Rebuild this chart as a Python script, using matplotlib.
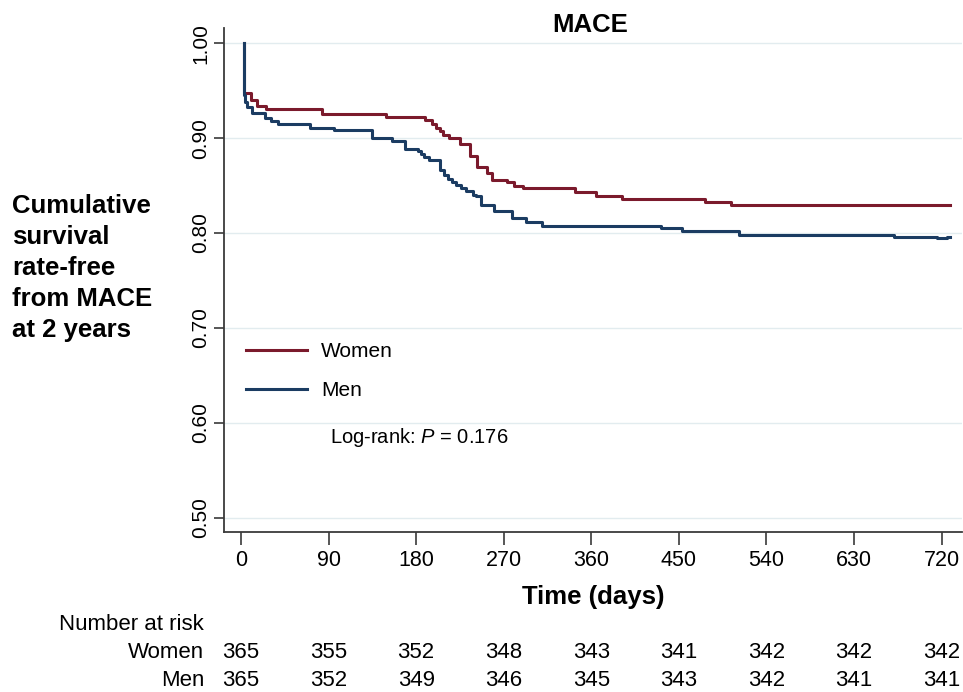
import matplotlib
matplotlib.use('Agg')
import matplotlib.pyplot as plt
import matplotlib.transforms as mtransforms

plt.rcParams['font.family'] = ['Liberation Sans', 'DejaVu Sans']
plt.rcParams['mathtext.fontset'] = 'custom'
plt.rcParams['mathtext.rm'] = 'Liberation Sans'
plt.rcParams['mathtext.it'] = 'Liberation Sans:italic'

NARROW = ['Liberation Sans Narrow', 'Liberation Sans', 'DejaVu Sans']

# Kaplan-Meier steps (time in days, survival after step)
women_t = [3, 3.5, 10, 16, 26, 83, 149, 189, 196, 200, 204, 208, 214, 225, 235,
           243, 253, 258, 273, 281, 290, 343, 365, 392, 477, 504, 729]
women_s = [1.000, 0.948, 0.940, 0.934, 0.931, 0.925, 0.9225, 0.919, 0.915, 0.911,
           0.907, 0.903, 0.900, 0.894, 0.881, 0.870, 0.863, 0.856, 0.854, 0.850,
           0.8475, 0.843, 0.8386, 0.836, 0.833, 0.830, 0.830]

men_t = [3, 3.5, 4.5, 6, 11, 25, 31, 38, 71, 96, 135, 155.5, 168.5, 182, 185, 188,
         193, 205, 209, 213, 217, 221, 226, 231, 238, 242, 246.5, 260, 278, 293,
         309, 432, 453, 512, 671, 715, 726, 729]
men_s = [1.000, 0.945, 0.938, 0.933, 0.926, 0.921, 0.918, 0.915, 0.911, 0.909,
         0.9005, 0.8965, 0.889, 0.886, 0.883, 0.880, 0.877, 0.866, 0.861, 0.857,
         0.854, 0.851, 0.847, 0.844, 0.840, 0.8386, 0.829, 0.8227, 0.8157, 0.812,
         0.8076, 0.805, 0.802, 0.798, 0.7963, 0.795, 0.796, 0.796]

risk_times = [0, 90, 180, 270, 360, 450, 540, 630, 720]
women_risk = [365, 355, 352, 348, 343, 341, 342, 342, 342]
men_risk = [365, 352, 349, 346, 345, 343, 342, 341, 341]

yticks = [0.5, 0.6, 0.7, 0.8, 0.9, 1.0]

women_col = '#7b1a2c'
men_col = '#1b3c62'
spine_col = '#3a3a3a'

W, H = 963, 692
fig = plt.figure(figsize=(W / 100, H / 100), dpi=100)
ax = fig.add_axes([224 / W, 1 - 532 / H, (962 - 224) / W, (532 - 28) / H])

for y in yticks:
    ax.axhline(y, color='#e2ecef', lw=1.0, zorder=0)

ax.step(women_t, women_s, where='post', color=women_col, lw=2.2, label='Women')
ax.step(men_t, men_s, where='post', color=men_col, lw=2.2, label='Men')

ax.set_xlim(-17.5, 741)
ax.set_ylim(0.485, 1.016)
ax.set_xticks(risk_times)
ax.set_yticks(yticks)
ax.set_yticklabels(['%.2f' % v for v in yticks], rotation=90, va='center', fontsize=15)
ax.set_xticklabels([str(t) for t in risk_times], fontsize=15.5, family=NARROW)
ax.tick_params(axis='x', length=9, width=1.2, color=spine_col, pad=4)
ax.tick_params(axis='y', length=7, width=1.2, color=spine_col, pad=3)

for s in ['top', 'right']:
    ax.spines[s].set_visible(False)
for s in ['left', 'bottom']:
    ax.spines[s].set_color(spine_col)
    ax.spines[s].set_linewidth(1.3)

leg = ax.legend(loc='upper left', bbox_to_anchor=(0.019, 0.393), frameon=False,
                fontsize=15, handlelength=2.9, handletextpad=0.7, labelspacing=0.95,
                borderaxespad=0)

ax.text(91, 0.585, 'Log-rank: $\\mathit{P}$ = 0.176', fontsize=14.5, va='center', ha='left')

fig.text(590 / W, 1 - 25 / H, 'MACE', fontsize=18.5, fontweight='bold', ha='center', va='center')
fig.text(593 / W, 1 - 597 / H, 'Time (days)', fontsize=18.5, fontweight='bold',
         ha='center', va='center')
fig.text(12 / W, 1 - 268 / H, 'Cumulative\nsurvival\nrate-free\nfrom MACE\nat 2 years',
         fontsize=18.5, fontweight='bold', ha='left', va='center', linespacing=1.38)

# number at risk table
trans = mtransforms.blended_transform_factory(ax.transData, fig.transFigure)
fig.text(204 / W, 1 - 625 / H, 'Number at risk', fontsize=16, family=NARROW,
         ha='right', va='center')
fig.text(204 / W, 1 - 653 / H, 'Women', fontsize=16, family=NARROW, ha='right', va='center')
fig.text(204 / W, 1 - 680 / H, 'Men', fontsize=16, family=NARROW, ha='right', va='center')
for t, nw, nm in zip(risk_times, women_risk, men_risk):
    ax.text(t, 1 - 653 / H, str(nw), transform=trans, fontsize=16, family=NARROW,
            ha='center', va='center', clip_on=False)
    ax.text(t, 1 - 680 / H, str(nm), transform=trans, fontsize=16, family=NARROW,
            ha='center', va='center', clip_on=False)

fig.savefig('out.png', dpi=100)
